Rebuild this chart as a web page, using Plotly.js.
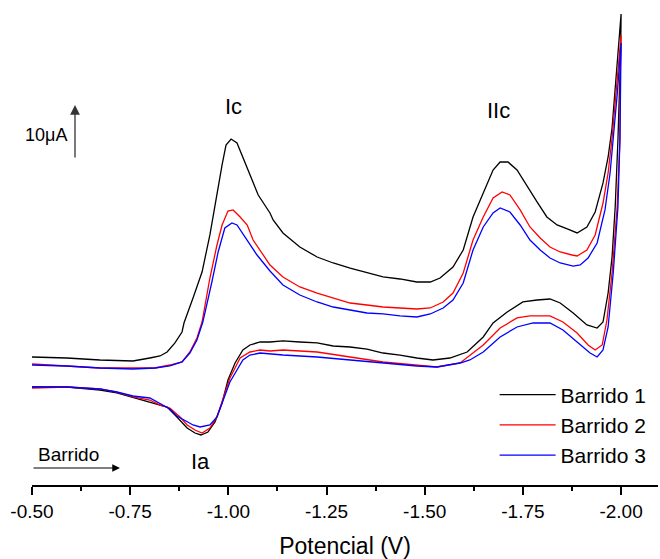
<!DOCTYPE html>
<html>
<head>
<meta charset="utf-8">
<script src="https://cdn.plot.ly/plotly-3.0.1.min.js"></script>
<style>
  html, body { margin: 0; padding: 0; background: #fff; }
  #chart { width: 660px; height: 559px; }
</style>
</head>
<body>
<div id="chart"></div>
<script>
// Potential (V) and current (µA, arbitrary offset) for each scan: forward then return branch
const e1 = [-0.500,-0.589,-0.673,-0.757,-0.800,-0.826,-0.844,-0.864,-0.882,-0.887,-0.910,-0.933,-0.953,-0.971,-0.984,-0.994,-1.007,-1.022,-1.037,-1.055,-1.076,-1.106,-1.114,-1.139,-1.182,-1.226,-1.267,-1.310,-1.353,-1.394,-1.437,-1.480,-1.514,-1.539,-1.572,-1.598,-1.623,-1.649,-1.674,-1.692,-1.712,-1.735,-1.761,-1.786,-1.811,-1.837,-1.863,-1.888,-1.913,-1.934,-1.954,-1.967,-1.977,-1.987,-2.000,
  -1.999,-1.996,-1.992,-1.985,-1.977,-1.967,-1.954,-1.939,-1.913,-1.878,-1.845,-1.819,-1.786,-1.750,-1.710,-1.674,-1.649,-1.608,-1.564,-1.521,-1.480,-1.437,-1.394,-1.353,-1.310,-1.267,-1.226,-1.182,-1.139,-1.106,-1.081,-1.055,-1.037,-1.017,-0.999,-0.984,-0.966,-0.948,-0.930,-0.915,-0.895,-0.869,-0.844,-0.826,-0.800,-0.757,-0.716,-0.673,-0.589,-0.500];
const i1 = [7.96,7.78,7.41,7.22,7.78,8.15,8.89,10.56,12.59,14.26,18.89,23.70,30.56,38.52,43.52,47.22,48.33,47.59,44.81,41.67,37.96,34.63,33.33,30.93,28.33,26.48,25.37,24.44,23.52,22.78,22.41,21.85,21.85,22.59,24.63,27.78,33.89,38.33,42.59,44.07,44.07,42.59,39.44,36.67,33.89,32.41,31.67,30.93,32.04,34.81,40.19,45.00,50.37,59.26,71.48,
  64.81,55.56,48.15,35.74,26.48,19.81,14.44,13.33,13.89,16.11,17.96,18.70,18.52,18.15,16.30,14.26,11.67,8.89,7.78,7.41,7.78,8.33,8.70,9.44,9.81,10.00,10.56,10.74,10.93,10.74,10.74,10.19,9.26,6.85,3.70,-0.56,-4.07,-5.93,-6.48,-6.11,-5.19,-3.15,-1.30,-0.93,-0.37,0.56,1.30,1.85,2.41,2.41];

const e2 = [-0.500,-0.589,-0.673,-0.757,-0.813,-0.851,-0.882,-0.902,-0.920,-0.933,-0.953,-0.971,-0.984,-0.999,-1.012,-1.030,-1.048,-1.063,-1.086,-1.106,-1.139,-1.182,-1.226,-1.267,-1.310,-1.353,-1.394,-1.437,-1.480,-1.514,-1.547,-1.572,-1.598,-1.623,-1.649,-1.674,-1.697,-1.717,-1.743,-1.768,-1.794,-1.819,-1.845,-1.875,-1.888,-1.913,-1.934,-1.954,-1.967,-1.977,-1.987,-2.000,
  -1.998,-1.997,-1.990,-1.977,-1.964,-1.952,-1.934,-1.916,-1.888,-1.852,-1.819,-1.768,-1.735,-1.692,-1.649,-1.608,-1.590,-1.531,-1.480,-1.394,-1.310,-1.226,-1.139,-1.106,-1.081,-1.055,-1.030,-1.004,-0.971,-0.953,-0.933,-0.915,-0.895,-0.877,-0.851,-0.826,-0.800,-0.757,-0.716,-0.673,-0.589,-0.500];
const i2 = [6.67,6.30,5.93,5.93,5.93,6.48,7.04,8.89,11.48,14.44,22.59,28.70,32.41,35.00,35.19,33.89,32.41,29.63,27.22,25.00,22.78,20.93,19.81,18.89,17.96,17.59,17.22,17.04,16.85,17.04,18.15,19.81,23.52,29.63,33.89,37.41,38.52,37.96,35.19,32.04,30.00,28.33,27.41,26.85,26.67,27.78,30.56,36.48,42.04,48.52,57.41,67.59,
  60.19,48.15,35.74,23.52,14.81,10.19,9.26,10.19,12.41,14.44,15.56,15.56,15.19,13.33,10.19,7.78,6.85,6.11,6.48,7.04,7.96,8.89,9.26,9.07,9.26,8.89,7.78,4.07,-3.15,-5.19,-6.11,-5.56,-4.63,-3.15,-1.48,-0.93,0.00,0.56,1.48,2.04,2.41,2.22];

const e3 = [-0.500,-0.589,-0.673,-0.757,-0.813,-0.851,-0.882,-0.902,-0.920,-0.935,-0.958,-0.974,-0.991,-1.009,-1.022,-1.048,-1.073,-1.106,-1.139,-1.182,-1.226,-1.267,-1.310,-1.353,-1.394,-1.437,-1.480,-1.514,-1.547,-1.572,-1.598,-1.623,-1.649,-1.674,-1.692,-1.717,-1.743,-1.768,-1.794,-1.819,-1.845,-1.878,-1.896,-1.916,-1.939,-1.959,-1.972,-1.980,-1.990,-2.000,
  -1.999,-1.997,-1.992,-1.980,-1.967,-1.954,-1.939,-1.921,-1.888,-1.852,-1.819,-1.776,-1.735,-1.692,-1.649,-1.615,-1.590,-1.531,-1.480,-1.394,-1.310,-1.226,-1.139,-1.106,-1.081,-1.055,-1.037,-1.004,-0.971,-0.953,-0.928,-0.910,-0.895,-0.869,-0.851,-0.826,-0.800,-0.757,-0.716,-0.673,-0.589,-0.500];
const i3 = [6.48,6.30,5.93,5.74,5.93,6.30,7.04,8.70,11.11,14.44,21.85,27.41,31.85,32.78,32.41,29.63,26.85,23.89,21.30,19.44,18.15,17.22,16.67,16.11,15.93,15.56,15.37,15.93,17.04,18.52,21.67,27.78,32.04,34.63,35.56,34.81,32.41,29.63,27.78,26.30,25.37,24.81,25.00,26.30,29.07,35.19,42.04,48.15,56.48,66.11,
  60.19,48.15,35.74,23.52,13.52,9.26,7.96,8.70,10.74,12.96,14.26,14.26,13.52,11.67,8.89,7.41,6.85,6.11,6.30,6.85,7.41,7.96,8.33,8.52,8.70,8.33,7.41,3.33,-3.15,-4.63,-5.00,-4.63,-4.07,-2.96,-1.67,-0.74,0.37,0.74,1.48,2.04,2.41,2.41];

const seriesNames = ['Barrido 1', 'Barrido 2', 'Barrido 3'];
const seriesColors = ['#000000', '#ff0000', '#0000ff'];
const tickValues = [-0.50, -0.75, -1.00, -1.25, -1.50, -1.75, -2.00];
const tickLabels = ['-0.50', '-0.75', '-1.00', '-1.25', '-1.50', '-1.75', '-2.00'];

const font = 'Liberation Sans, Arial, Helvetica, sans-serif';
const xs = [e1, e2, e3], ys = [i1, i2, i3];
const traces = xs.map((x, k) => ({
  x: x, y: ys[k], type: 'scatter', mode: 'lines', name: seriesNames[k],
  line: { color: seriesColors[k], width: 1.3 }
}));

const layout = {
  width: 660, height: 559,
  margin: { l: 32, r: 2, t: 0, b: 74 },
  paper_bgcolor: '#ffffff', plot_bgcolor: '#ffffff',
  font: { family: font, color: '#000' },
  showlegend: true,
  legend: {
    x: 0.739, y: 0.228, xanchor: 'left', yanchor: 'top',
    font: { family: font, size: 21, color: '#000' },
    bgcolor: 'rgba(0,0,0,0)', itemwidth: 56, tracegroupgap: 0
  },
  xaxis: {
    range: [-0.5, -2.094], showgrid: false, zeroline: false,
    showline: true, linecolor: '#000', linewidth: 2,
    ticks: 'outside', ticklen: 8, tickwidth: 2, tickcolor: '#000',
    tickvals: tickValues, ticktext: tickLabels,
    tickfont: { family: font, size: 19, color: '#000' },
    minor: { dtick: 0.125, ticks: 'outside', ticklen: 4, tickwidth: 2, tickcolor: '#000', showgrid: false },
    title: { text: 'Potencial (V)', font: { family: font, size: 23, color: '#000' } }
  },
  yaxis: { visible: false, range: [-15.74, 74.07] },
  annotations: [
    { x: -1.014, y: 54.26, xref: 'x', yref: 'y', text: 'Ic', showarrow: false, font: { size: 22, family: font } },
    { x: -1.687, y: 53.7, xref: 'x', yref: 'y', text: 'IIc', showarrow: false, font: { size: 22, family: font } },
    { x: -0.928, y: -11.3, xref: 'x', yref: 'y', text: 'Ia', showarrow: false, font: { size: 22, family: font } },
    { x: -0.536, y: 49.07, xref: 'x', yref: 'y', text: '10μA', showarrow: false, font: { size: 18, family: font } },
    { x: -0.6095, y: 54.63, ax: -0.6095, ay: 44.63, xref: 'x', yref: 'y', axref: 'x', ayref: 'y',
      text: '', showarrow: true, arrowhead: 2, arrowsize: 1.5, arrowwidth: 1.3, arrowcolor: '#333' },
    { x: -0.594, y: -10.0, xref: 'x', yref: 'y', text: 'Barrido', showarrow: false, font: { size: 19, family: font } },
    { x: -0.724, y: -12.59, ax: -0.500, ay: -12.59, xref: 'x', yref: 'y', axref: 'x', ayref: 'y',
      text: '', showarrow: true, arrowhead: 2, arrowsize: 1.4, arrowwidth: 1.1, arrowcolor: '#000' }
  ]
};

Plotly.newPlot('chart', traces, layout, { displayModeBar: false, staticPlot: true });
</script>
</body>
</html>
